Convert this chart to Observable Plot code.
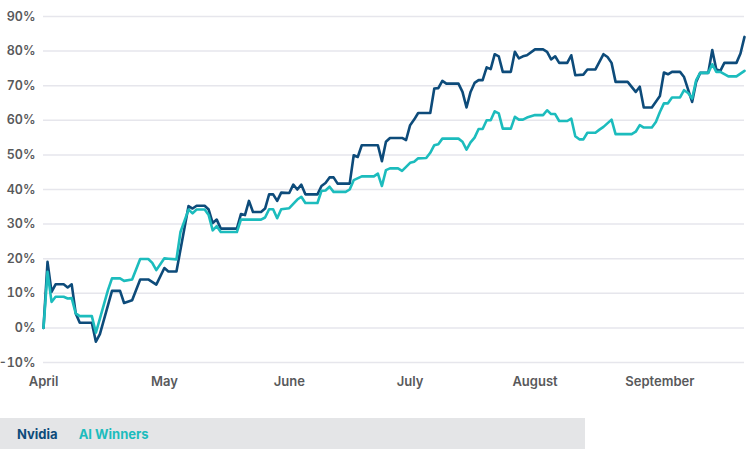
<!DOCTYPE html>
<html>
<head>
<meta charset="utf-8">
<script src="https://cdn.jsdelivr.net/npm/d3@7"></script>
<script src="https://cdn.jsdelivr.net/npm/@observablehq/plot@0.6"></script>
<style>
  html, body { margin: 0; padding: 0; background: #fff; }
  body { width: 750px; height: 450px; overflow: hidden; font-family: Inter, "Noto Sans", sans-serif; }
  #chart svg { display: block; }
  .legend {
    margin-top: 18px; width: 585px; height: 31px; background: #e4e5e7;
    display: flex; align-items: center; font-size: 13px; font-weight: 700;
  }
  .legend span { display: inline-block; }
</style>
</head>
<body>
<div id="chart"></div>
<div class="legend">
  <span style="margin-left:17px;color:#0d4b7a">Nvidia</span>
  <span style="margin-left:21px;color:#1cbcbd">AI Winners</span>
</div>
<script>
const seriesNames = ["Nvidia", "AI Winners"];
const seriesColors = ["#0d4b7a", "#1cbcbd"];
const yTicks = [-10, 0, 10, 20, 30, 40, 50, 60, 70, 80, 90];
const monthTicks = ["2023-04-01", "2023-05-01", "2023-06-01", "2023-07-01", "2023-08-01", "2023-09-01"];

const nvidiaDates = ["04-01","04-02","04-03","04-04","04-06","04-07","04-08","04-09","04-10","04-13","04-14","04-15","04-18","04-20","04-21","04-23","04-25","04-27","04-29",
 "05-01","05-02","05-04","05-07","05-08","05-09","05-11","05-12","05-13","05-14","05-15","05-19","05-20","05-21","05-22","05-23","05-25","05-26","05-27","05-28","05-29","05-30",
 "06-01","06-02","06-03","06-04","06-05","06-08","06-09","06-10","06-11","06-12","06-13","06-16","06-17","06-18","06-19","06-23","06-24","06-25","06-26","06-29","06-30",
 "07-01","07-02","07-03","07-06","07-07","07-08","07-09","07-10","07-13","07-14","07-15","07-16","07-17","07-18","07-19","07-20","07-21","07-22","07-23","07-24","07-26","07-27","07-28","07-29","07-30",
 "08-01","08-03","08-04","08-05","08-06","08-07","08-09","08-10","08-11","08-13","08-14","08-16","08-18","08-19","08-20","08-21","08-24","08-26","08-27","08-28","08-30",
 "09-01","09-02","09-03","09-04","09-06","09-07","09-09","09-10","09-11","09-13","09-14","09-15","09-16","09-17","09-20","09-21","09-22"];
const nvidiaValues = [0,19.1,10.4,12.6,12.6,11.7,12.6,4.2,1.5,1.5,-4.0,-1.8,10.7,10.7,7.2,8.0,14.0,14.0,12.5,
 17.3,16.3,16.3,35.2,34.5,35.3,35.3,34.2,30.3,31.3,28.7,28.7,32.9,32.6,36.7,33.5,33.5,34.5,38.6,38.6,36.7,39.1,
 39.0,41.4,40.0,41.4,38.6,38.6,41.0,41.9,43.5,43.5,41.7,41.7,49.9,49.4,52.8,52.8,48.2,53.8,54.9,54.9,54.3,
 58.6,60.2,62.1,62.1,69.2,69.3,71.4,70.6,70.6,68.2,63.7,68.2,70.8,71.6,71.6,75.3,74.8,79.1,78.5,74.0,74.0,79.8,77.9,78.5,78.8,
 80.5,80.5,79.8,77.6,78.5,76.6,76.6,78.8,73.0,73.2,74.7,74.7,79.1,78.3,76.6,71.1,71.1,68.2,69.7,63.7,63.7,
 67.0,73.8,73.3,74.0,74.0,72.5,65.3,71.1,73.7,73.7,80.3,74.7,74.3,76.6,76.6,79.3,84.1];

const aiDates = ["04-01","04-02","04-03","04-04","04-06","04-07","04-08","04-09","04-10","04-13","04-14","04-15","04-17","04-18","04-20","04-21","04-23","04-25","04-27","04-28","04-29",
 "05-01","05-02","05-04","05-05","05-07","05-08","05-09","05-11","05-12","05-13","05-14","05-15","05-19","05-20","05-25","05-26","05-27","05-28","05-29","05-30",
 "06-01","06-03","06-04","06-05","06-08","06-09","06-10","06-11","06-12","06-15","06-16","06-17","06-19","06-22","06-23","06-24","06-25","06-26","06-28","06-29",
 "07-01","07-02","07-03","07-05","07-06","07-07","07-08","07-09","07-13","07-14","07-15","07-16","07-17","07-18","07-19","07-20","07-21","07-22","07-23","07-24","07-26","07-27","07-28","07-29","07-30",
 "08-01","08-03","08-04","08-05","08-06","08-07","08-09","08-10","08-11","08-12","08-13","08-14","08-16","08-17","08-18","08-20","08-21","08-25","08-26","08-27","08-28","08-30","08-31",
 "09-01","09-02","09-03","09-04","09-06","09-07","09-08","09-09","09-10","09-11","09-13","09-14","09-15","09-16","09-18","09-20","09-21","09-22"];
const aiValues = [0,16.2,7.5,9.0,9.0,8.5,8.6,4.2,3.4,3.4,-1.4,2.7,10.9,14.3,14.3,13.6,14.0,19.9,19.9,18.8,16.7,
 20.1,20.0,19.8,27.7,34.2,33.1,34.2,34.2,32.6,28.2,29.4,27.7,27.7,31.3,31.3,31.9,34.3,34.3,31.7,34.3,
 34.6,37.1,37.9,36.1,36.1,39.6,39.7,40.8,39.3,39.3,40.0,42.7,43.8,43.8,44.6,41.0,45.6,46.1,46.1,45.4,
 47.7,48.0,49.0,49.1,50.6,52.8,53.1,54.7,54.7,53.8,51.5,53.6,55.0,57.5,57.5,60.0,60.0,62.6,62.0,57.6,57.6,61.0,60.2,60.2,60.8,
 61.5,61.5,62.9,61.8,61.8,59.8,59.8,60.5,55.4,54.5,54.5,56.4,56.4,57.3,58.1,60.2,56.0,56.0,56.7,58.6,57.9,57.9,59.5,
 62.4,64.9,64.9,66.6,66.6,68.7,67.9,66.3,71.6,73.7,73.7,76.2,74.0,74.0,72.7,72.7,73.5,74.3];

const toRows = (dates, values, name) => dates.map((d, i) => ({date: new Date("2023-" + d + "T00:00:00Z"), value: values[i], series: name}));
const nvidia = toRows(nvidiaDates, nvidiaValues, seriesNames[0]);
const ai = toRows(aiDates, aiValues, seriesNames[1]);

const chart = Plot.plot({
  width: 750,
  height: 400,
  marginLeft: 43,
  marginRight: 6,
  marginTop: 16,
  marginBottom: 38,
  style: {fontFamily: "Inter, 'Noto Sans', sans-serif", fontSize: "13px", color: "#58595b", background: "#fff"},
  x: {type: "utc", domain: [new Date("2023-04-01T00:00:00Z"), new Date("2023-09-22T00:00:00Z")]},
  y: {domain: [-10, 90]},
  marks: [
    Plot.ruleY(yTicks, {stroke: "#e6e6ec", strokeWidth: 1.5}),
    Plot.axisY({ticks: yTicks, tickSize: 0, tickPadding: 8, tickFormat: d => d + "%", label: null, fontWeight: 600, fontSize: 12.5, fill: "#58595b"}),
    Plot.axisX({ticks: monthTicks.map(d => new Date(d + "T00:00:00Z")), tickSize: 0, tickPadding: 14, tickFormat: d3.utcFormat("%B"), label: null, fontWeight: 600, fill: "#58595b"}),
    Plot.line(nvidia, {x: "date", y: "value", stroke: seriesColors[0], strokeWidth: 2.6, strokeLinejoin: "round"}),
    Plot.line(ai, {x: "date", y: "value", stroke: seriesColors[1], strokeWidth: 2.6, strokeLinejoin: "round"})
  ]
});
document.getElementById("chart").appendChild(chart);
</script>
</body>
</html>
